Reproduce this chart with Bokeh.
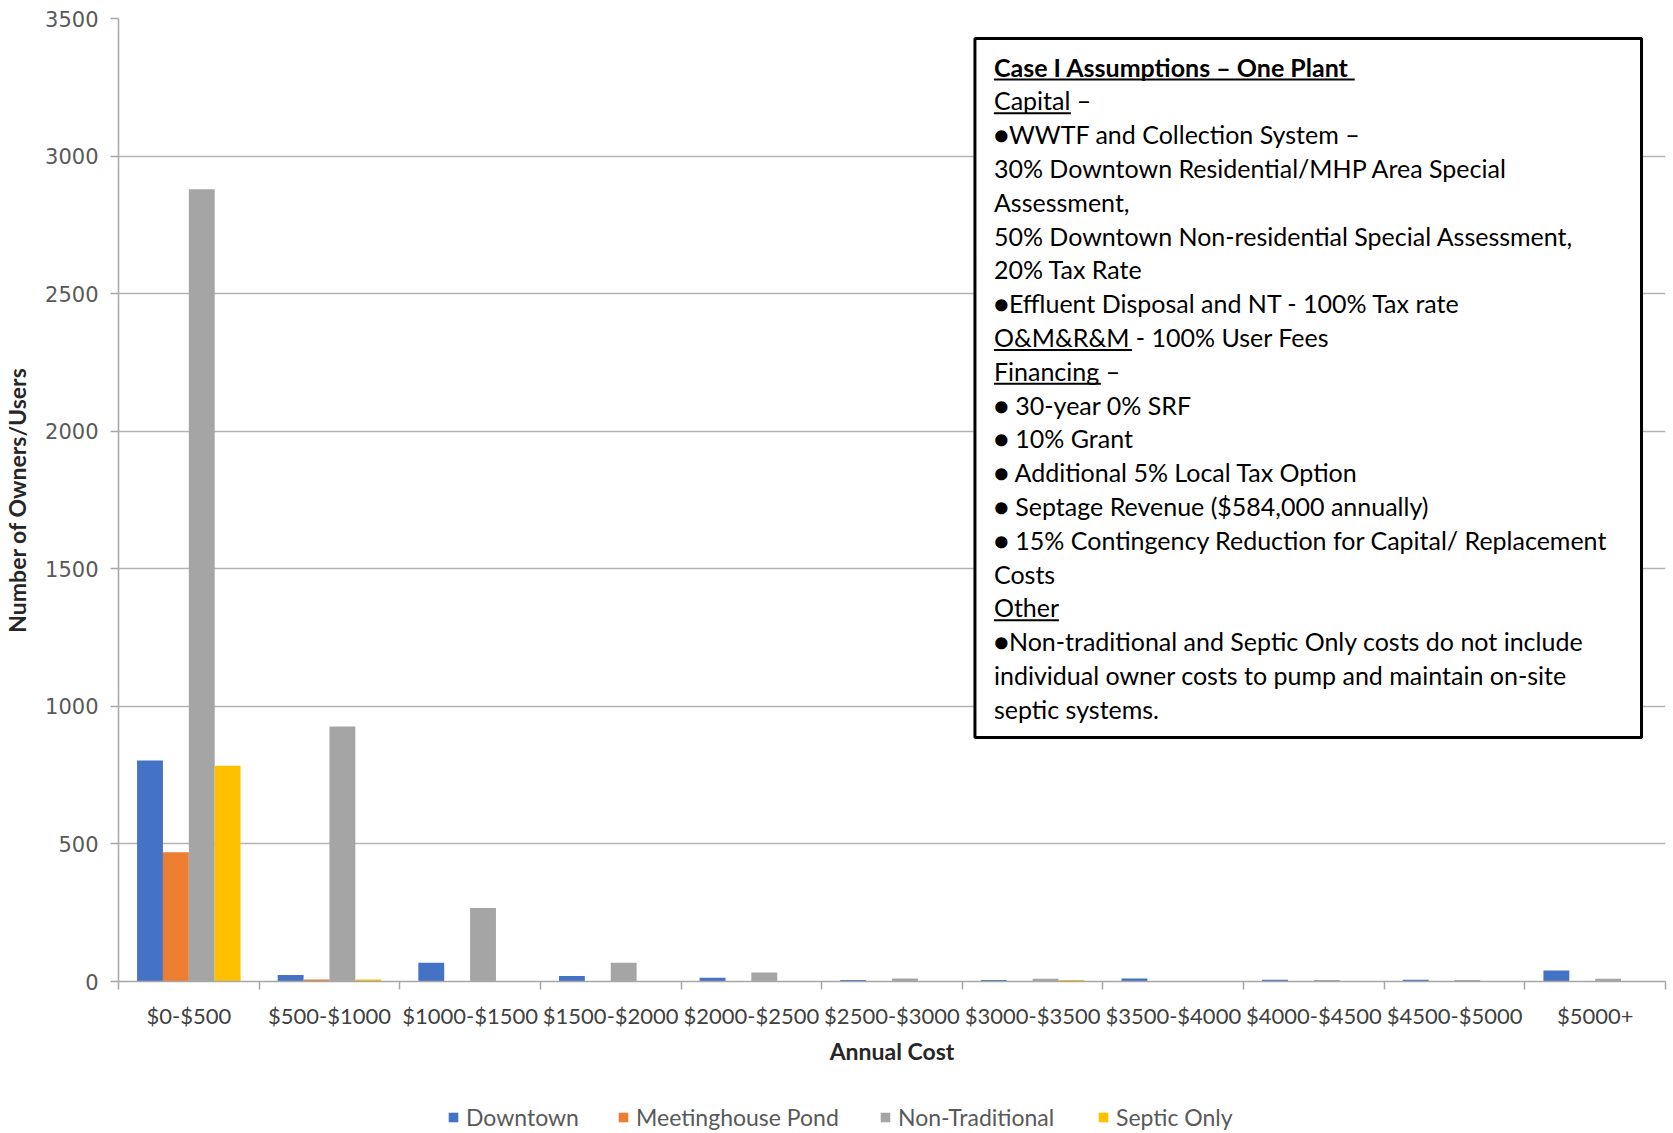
from bokeh.plotting import figure
from bokeh.layouts import column
from bokeh.models import (Range1d, FixedTicker, Legend, LegendItem, BoxAnnotation,
                          Label, ColumnDataSource)
from bokeh.embed import file_html
from bokeh.resources import INLINE

# ---- data ----
cost_bins = ["$0-$500", "$500-$1000", "$1000-$1500", "$1500-$2000", "$2000-$2500",
             "$2500-$3000", "$3000-$3500", "$3500-$4000", "$4000-$4500",
             "$4500-$5000", "$5000+"]
downtown = [803, 24, 68, 20, 14, 5, 5, 11, 6, 6, 40]
meetinghouse_pond = [470, 7, 0, 0, 0, 0, 0, 0, 0, 0, 0]
non_traditional = [2879, 927, 267, 68, 33, 11, 10, 0, 5, 5, 10]
septic_only = [784, 7, 0, 0, 0, 0, 5, 0, 0, 0, 0]

series_names = ["Downtown", "Meetinghouse Pond", "Non-Traditional", "Septic Only"]
series_values = [downtown, meetinghouse_pond, non_traditional, septic_only]
series_colors = ["#4472C4", "#ED7D31", "#A5A5A5", "#FFC000"]

y_ticks = [0, 500, 1000, 1500, 2000, 2500, 3000, 3500]

notes = [
    "Case I Assumptions \u2013 One Plant",
    "Capital \u2013",
    "\u25cfWWTF and Collection System \u2013",
    "30% Downtown Residential/MHP Area Special",
    "Assessment,",
    "50% Downtown Non-residential Special Assessment,",
    "20% Tax Rate",
    "\u25cfEffluent Disposal and NT - 100% Tax rate",
    "O&M&R&M - 100% User Fees",
    "Financing \u2013",
    "\u25cf 30-year 0% SRF",
    "\u25cf 10% Grant",
    "\u25cf Additional 5% Local Tax Option",
    "\u25cf Septage Revenue ($584,000 annually)",
    "\u25cf 15% Contingency Reduction for Capital/ Replacement",
    "Costs",
    "Other",
    "\u25cfNon-traditional and Septic Only costs do not include",
    "individual owner costs to pump and maintain on-site",
    "septic systems.",
]
# (line index, underline length in px)
underlined = [(0, 361), (1, 77), (8, 138), (9, 107), (16, 65)]

# ---- layout ----
W, H = 1673, 1133
H_MAIN = 1080
FL, FR, FT, FB = 117, 1665, 18, 981
N = len(cost_bins)
YMAX = 3500
AXIS_GRAY = "#a6a6a6"

def dx(px):
    return (px - FL) / (FR - FL) * N

def dy(py):
    return (FB - py) / (FB - FT) * YMAX

p = figure(width=W, height=H_MAIN, output_backend="svg", toolbar_location=None,
           x_range=Range1d(0, N), y_range=Range1d(0, YMAX),
           min_border_left=FL, min_border_right=W - FR,
           min_border_top=FT, min_border_bottom=H_MAIN - FB)
p.outline_line_color = None

bar_w = 0.184
centers = [i + 0.5 for i in range(N)]
renderers = []
for k, (name, vals, col) in enumerate(zip(series_names, series_values, series_colors)):
    xs = [c + (k - 1.5) * bar_w for c in centers]
    src = ColumnDataSource(dict(x=xs, top=vals))
    r = p.vbar(x="x", top="top", bottom=0, width=bar_w, source=src,
               fill_color=col, line_color=None)
    renderers.append(r)

# x axis: labels at category centres, tick marks at category boundaries
xa = p.xaxis[0]
xa.ticker = FixedTicker(ticks=centers, minor_ticks=list(range(N + 1)))
xa.major_label_overrides = {c: lab for c, lab in zip(centers, cost_bins)}
xa.major_tick_line_color = None
xa.major_tick_out = 0
xa.major_tick_in = 0
xa.minor_tick_out = 8
xa.minor_tick_in = 0
xa.minor_tick_line_color = AXIS_GRAY
xa.minor_tick_line_width = 1.5
xa.axis_line_color = AXIS_GRAY
xa.axis_line_width = 1.5
xa.major_label_text_font = "Lato"
xa.major_label_text_font_size = "22px"
xa.major_label_text_color = "#404040"
xa.major_label_standoff = 12
xa.axis_label = "Annual Cost"
xa.axis_label_text_font = "Lato"
xa.axis_label_text_font_style = "bold"
xa.axis_label_text_font_size = "23px"
xa.axis_label_text_color = "#262626"
xa.axis_label_standoff = 5

ya = p.yaxis[0]
ya.ticker = FixedTicker(ticks=y_ticks)
ya.major_tick_line_color = AXIS_GRAY
ya.major_tick_line_width = 1.5
ya.major_tick_out = 8
ya.major_tick_in = 0
ya.minor_tick_line_color = None
ya.axis_line_color = AXIS_GRAY
ya.axis_line_width = 1.5
ya.major_label_text_font = "DejaVu Sans"
ya.major_label_text_font_size = "21px"
ya.major_label_text_color = "#595959"
ya.major_label_standoff = 12
ya.axis_label = "Number of Owners/Users"
ya.axis_label_text_font = "Lato"
ya.axis_label_text_font_style = "bold"
ya.axis_label_text_font_size = "23px"
ya.axis_label_text_color = "#262626"
ya.axis_label_standoff = 11

p.xgrid.grid_line_color = None
p.ygrid.ticker = FixedTicker(ticks=y_ticks)
p.ygrid.grid_line_color = "#b4b4b4"
p.ygrid.grid_line_width = 1.5

# assumptions text box
BX0, BX1, BY0, BY1 = 974, 1641, 38, 737
p.add_layout(BoxAnnotation(left=dx(BX0), right=dx(BX1), top=dy(BY0), bottom=dy(BY1),
                           fill_color="white", fill_alpha=1,
                           line_color="black", line_alpha=1, line_width=3,
                           level="annotation"))
TX = 993
LINE0 = 66
LINE_STEP = 33.8
for i, line in enumerate(notes):
    p.add_layout(Label(x=dx(TX), y=dy(LINE0 + i * LINE_STEP), text=line,
                       text_font="Lato", text_font_size="25px",
                       text_font_style="bold" if i == 0 else "normal",
                       text_color="black", text_baseline="middle", text_align="left"))
for i, length in underlined:
    uy = LINE0 + i * LINE_STEP + 13
    p.add_layout(BoxAnnotation(left=dx(TX), right=dx(TX + length),
                               top=dy(uy - 1), bottom=dy(uy + 1),
                               fill_color="black", fill_alpha=1, line_color=None,
                               line_alpha=0))

# legend strip under the chart; its frame lines up with the chart frame (left edge at FL)
H_LEG = H - H_MAIN
leg = figure(width=W, height=H_LEG, output_backend="svg", toolbar_location=None,
             x_range=Range1d(0, 1), y_range=Range1d(0, 1),
             x_axis_location=None, y_axis_location=None,
             min_border_left=FL, min_border_right=W - FR,
             min_border_top=0, min_border_bottom=0, outline_line_color=None)
leg.grid.visible = False
leg_x = [446, 616, 878, 1096]
for name, col, lx in zip(series_names, series_colors, leg_x):
    # swatch sits below the strip's y range, so only its legend entry is drawn
    swatch = leg.vbar(x=[0.5], top=[-5], bottom=[-6], width=0.1,
                      fill_color=col, line_color=None)
    lg = Legend(items=[LegendItem(label=name, renderers=[swatch])],
                location=(lx - FL, 2), orientation="horizontal",
                glyph_width=12, glyph_height=12, label_standoff=7,
                padding=0, margin=0, border_line_color=None, background_fill_alpha=0,
                label_text_font="Lato", label_text_font_size="23px",
                label_text_color="#595959")
    leg.add_layout(lg, "center")

open("out.html", "w").write(file_html(column(p, leg), INLINE))
